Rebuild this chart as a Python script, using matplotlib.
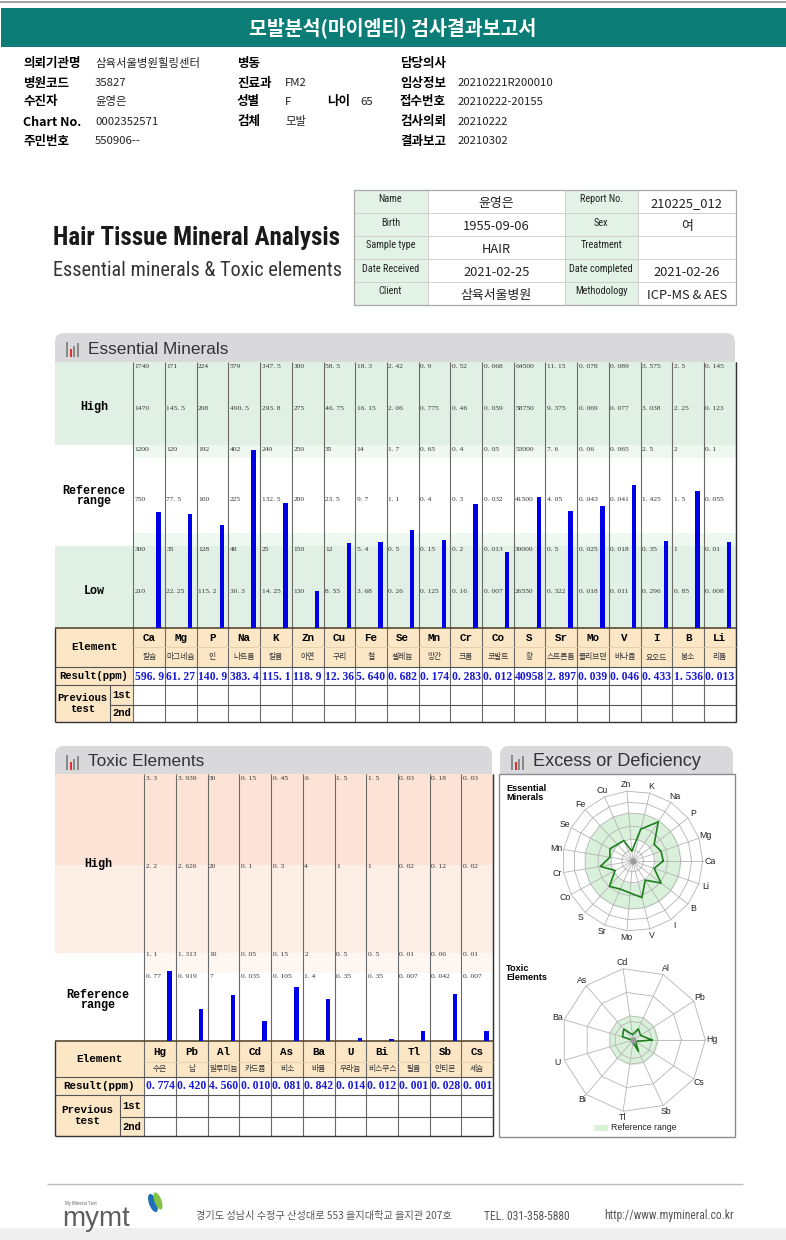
import numpy as np
import matplotlib
matplotlib.use("Agg")
import matplotlib.pyplot as plt
from matplotlib.patches import Rectangle, FancyBboxPatch, Ellipse

# ---- data ----
ess_symbols = ["Ca", "Mg", "P", "Na", "K", "Zn", "Cu", "Fe", "Se", "Mn",
               "Cr", "Co", "S", "Sr", "Mo", "V", "I", "B", "Li"]
ess_names = ["칼슘", "마그네슘", "인", "나트륨", "칼륨", "아연", "구리", "철", "셀레늄", "망간",
             "크롬", "코발트", "황", "스트론튬", "몰리브덴", "바나듐", "요오드", "붕소", "리튬"]
# reference levels top -> bottom (High top, High, Ref top, Ref mid, Low top, Low)
ess_levels = [
    [1740, 1470, 1200, 750, 300, 210],
    [171, 145.5, 120, 77.5, 35, 22.25],
    [224, 208, 192, 160, 128, 115.2],
    [579, 490.5, 402, 225, 48, 30.3],
    [347.5, 293.8, 240, 132.5, 25, 14.25],
    [300, 275, 250, 200, 150, 130],
    [58.5, 46.75, 35, 23.5, 12, 8.55],
    [18.3, 16.15, 14, 9.7, 5.4, 3.68],
    [2.42, 2.06, 1.7, 1.1, 0.5, 0.26],
    [0.9, 0.775, 0.65, 0.4, 0.15, 0.125],
    [0.52, 0.46, 0.4, 0.3, 0.2, 0.16],
    [0.068, 0.059, 0.05, 0.032, 0.013, 0.007],
    [64500, 58750, 53000, 41500, 30000, 26550],
    [11.15, 9.375, 7.6, 4.05, 0.5, 0.322],
    [0.078, 0.069, 0.06, 0.043, 0.025, 0.018],
    [0.089, 0.077, 0.065, 0.041, 0.018, 0.011],
    [3.575, 3.038, 2.5, 1.425, 0.35, 0.296],
    [2.5, 2.25, 2, 1.5, 1, 0.85],
    [0.145, 0.123, 0.1, 0.055, 0.01, 0.008],
]
ess_results = [596.9, 61.27, 140.9, 383.4, 115.1, 118.9, 12.36, 5.640, 0.682, 0.174,
               0.283, 0.012, 40958, 2.897, 0.039, 0.046, 0.433, 1.536, 0.013]

tox_symbols = ["Hg", "Pb", "Al", "Cd", "As", "Ba", "U", "Bi", "Tl", "Sb", "Cs"]
tox_names = ["수은", "납", "알루미늄", "카드뮴", "비소", "바륨", "우라늄", "비스무스", "탈륨", "안티몬", "세슘"]
tox_levels = [
    [3.3, 2.2, 1.1, 0.77],
    [3.939, 2.626, 1.313, 0.919],
    [30, 20, 10, 7],
    [0.15, 0.1, 0.05, 0.035],
    [0.45, 0.3, 0.15, 0.105],
    [6, 4, 2, 1.4],
    [1.5, 1, 0.5, 0.35],
    [1.5, 1, 0.5, 0.35],
    [0.03, 0.02, 0.01, 0.007],
    [0.18, 0.12, 0.06, 0.042],
    [0.03, 0.02, 0.01, 0.007],
]
tox_results = [0.774, 0.420, 4.560, 0.010, 0.081, 0.842, 0.014, 0.012, 0.001, 0.028, 0.001]

info_left = [("의뢰기관명", "삼육서울병원힐링센터"), ("병원코드", "35827"), ("수진자", "윤영은"),
             ("Chart No.", "0002352571"), ("주민번호", "550906--")]
info_mid = [("병동", ""), ("진료과", "FM2"), ("성별", "F"), ("검체", "모발")]
info_right = [("담당의사", ""), ("임상정보", "20210221R200010"), ("접수번호", "20210222-20155"),
              ("검사의뢰", "20210222"), ("결과보고", "20210302")]
card = [("Name", "윤영은", "Report No.", "210225_012"),
        ("Birth", "1955-09-06", "Sex", "여"),
        ("Sample type", "HAIR", "Treatment", ""),
        ("Date Received", "2021-02-25", "Date completed", "2021-02-26"),
        ("Client", "삼육서울병원", "Methodology", "ICP-MS & AES")]

KR = ["Noto Sans CJK KR", "DejaVu Sans"]
MONO = ["Liberation Mono", "DejaVu Sans Mono"]
SERIF = ["Liberation Serif", "DejaVu Serif"]
NARROW = ["Roboto Condensed", "Liberation Sans Narrow", "DejaVu Sans Condensed", "DejaVu Sans"]
SANS = ["Liberation Sans", "DejaVu Sans"]

W, H = 786, 1240
fig = plt.figure(figsize=(W / 100, H / 100), dpi=100)
ax = fig.add_axes([0, 0, 1, 1])
ax.set_xlim(0, W)
ax.set_ylim(H, 0)
ax.axis("off")
renderer = fig.canvas.get_renderer()


def box(x0, y0, x1, y1, fc, ec="none", lw=0, z=1):
    ax.add_patch(Rectangle((x0, y0), x1 - x0, y1 - y0, facecolor=fc, edgecolor=ec, linewidth=lw, zorder=z))


def hl(y, x0, x1, c="#555555", lw=0.8, z=3):
    ax.plot([x0, x1], [y, y], color=c, lw=lw, zorder=z, solid_capstyle="butt")


def vl(x, y0, y1, c="#555555", lw=0.8, z=3):
    ax.plot([x, x], [y0, y1], color=c, lw=lw, zorder=z, solid_capstyle="butt")


def fit(t, width):
    bb = t.get_window_extent(renderer)
    t.set_fontsize(t.get_fontsize() * width / bb.width)


def shrink(t, width):
    if t.get_window_extent(renderer).width > width:
        fit(t, width)


def fmt_level(v):
    return f"{v:g}".replace(".", ". ")


def fmt_res(v):
    if v >= 1000:
        s = f"{v:.0f}"
    elif v >= 100:
        s = f"{v:.1f}"
    elif v >= 10:
        s = f"{v:.2f}"
    else:
        s = f"{v:.3f}"
    return s.replace(".", ". ")


def tab(x0, x1, y0, y1, title, title_w):
    ax.add_patch(FancyBboxPatch((x0, y0), x1 - x0, (y1 - y0) + 10, boxstyle="round,pad=0,rounding_size=9",
                                facecolor="#d9d9dc", edgecolor="none", zorder=1))
    # little bar icon
    for dx, hgt, c in [(0, 15, "#8a8a8a"), (3.5, 8, "#e03030"), (7, 11, "#8a8a8a"), (10.5, 14, "#8a8a8a")]:
        box(x0 + 11 + dx, y0 + 24 - hgt, x0 + 13.2 + dx, y0 + 24, c, z=4)
    t = ax.text(x0 + 33, y0 + 16, title, fontsize=13, family=SANS, color="#333333", va="center", zorder=4)
    fit(t, title_w)


# ---- header ----
hl(1.5, 0, W, "#a0a0a0", 1.4)
box(1, 8, W, 47, "#0b7d76")
ax.text(393, 28, "모발분석(마이엠티) 검사결과보고서", color="white", fontsize=14, weight="bold",
        family=KR, ha="center", va="center", zorder=4)
rows_y = [63, 83, 102, 122, 141]
for (lab, val), y in zip(info_left, rows_y):
    ax.text(23, y, lab, family=KR, weight="bold", fontsize=9, va="center")
    ax.text(95, y, val, family=KR, fontsize=8.2, va="center", color="#222222")
for (lab, val), y in zip(info_mid, rows_y):
    ax.text(237, y, lab, family=KR, weight="bold", fontsize=9, va="center")
    ax.text(285, y, val, family=KR, fontsize=8.2, va="center", color="#222222")
ax.text(327, rows_y[2], "나이", family=KR, weight="bold", fontsize=9, va="center")
ax.text(360, rows_y[2], "65", family=KR, fontsize=8.2, va="center", color="#222222")
for (lab, val), y in zip(info_right, rows_y):
    ax.text(400, y, lab, family=KR, weight="bold", fontsize=9, va="center")
    ax.text(458, y, val, family=KR, fontsize=8.2, va="center", color="#222222")

# ---- title block ----
t = ax.text(53, 245, "Hair Tissue Mineral Analysis", family=NARROW, fontstretch="condensed", weight="bold",
            fontsize=22, color="#1a1a1a")
fit(t, 288)
t = ax.text(53, 276, "Essential minerals & Toxic elements", family=NARROW, fontstretch="condensed",
            fontsize=15, color="#333333")
fit(t, 288)

cx = [353.5, 427.5, 565, 637.5, 736]
cy = [190, 213, 236, 259, 282, 305]
box(cx[0], cy[0], cx[1], cy[-1], "#e2f2e6", z=1)
box(cx[2], cy[0], cx[3], cy[-1], "#e2f2e6", z=1)
for y in cy[1:-1]:
    hl(y, cx[0], cx[-1], "#d0d0d0", 0.7)
for x in cx[1:-1]:
    vl(x, cy[0], cy[-1], "#d0d0d0", 0.7)
box(cx[0], cy[0], cx[-1], cy[-1], "none", "#a8a8a8", 0.9, z=4)
for r, (l1, v1, l2, v2) in enumerate(card):
    ym = (cy[r] + cy[r + 1]) / 2
    for lab, xa, xb in [(l1, cx[0], cx[1]), (l2, cx[2], cx[3])]:
        t = ax.text((xa + xb) / 2, ym - 2, lab, family=NARROW, fontstretch="condensed", fontsize=7.4,
                    ha="center", va="center", color="#222222")
        shrink(t, (xb - xa) - 3)
    for val, xa, xb in [(v1, cx[1], cx[2]), (v2, cx[3], cx[4])]:
        ax.text((xa + xb) / 2, ym + 2, val, family=KR, fontsize=9.3, ha="center", va="center", color="#222222")

# ---- essential minerals ----
tab(55, 735, 333, 362, "Essential Minerals", 140)
ex0, cw, n_e = 133.3, 31.7, len(ess_symbols)
ex1 = ex0 + n_e * cw
e_top, e_bot = 362, 628
ess_pix = np.array([0, 41, 83, 133, 183, 224, 266])  # level heights above chart bottom
green, green_l = "#e1f0e4", "#eef7f0"
box(55, e_top, ex1, e_top + 83, green, z=2)
box(ex0, 445, ex1, 458, green_l, z=2)
box(55, 445, ex1, 546, "white", z=1.5)
box(ex0, 533, ex1, 546, green_l, z=2)
box(55, 546, ex1, e_bot, green, z=2)
ax.text(94, 407, "High", family=MONO, weight="bold", fontsize=8.5, ha="center", va="center", zorder=4)
ax.text(94, 496, "Reference\nrange", family=MONO, weight="bold", fontsize=8.5, ha="center", va="center",
        linespacing=0.85, zorder=4)
ax.text(94, 591, "Low", family=MONO, weight="bold", fontsize=8.5, ha="center", va="center", zorder=4)

e_heights = []
for i, lv in enumerate(ess_levels):
    x = ex0 + i * cw
    for v, hp in zip(lv, ess_pix[::-1][:6]):
        ax.text(x + 1.5, e_bot - hp + 4.5, fmt_level(v), family=SERIF, fontsize=5.4, color="#333333",
                va="center", zorder=4)
    e_heights.append(np.interp(ess_results[i], [0] + lv[::-1], ess_pix))
ax.bar(ex0 + np.arange(n_e) * cw + 25.2, -np.array(e_heights), bottom=e_bot, width=4.4,
       color="#0000e8", zorder=5)

# essential table
rows = [628, 647, 667, 685, 705, 722]
beige = "#fbe6c6"
box(55, rows[0], ex1, rows[2], beige, z=1)
box(55, rows[2], ex0, rows[3], beige, z=1)
box(55, rows[3], ex0, rows[5], beige, z=1)
for i in range(n_e + 1):
    vl(ex0 + i * cw, e_top, rows[5], "#6a6a6a", 0.8)
vl(ex1, e_top, rows[5], "#333333", 1.0)
vl(55, rows[0], rows[5], "#333333", 1.0)
hl(rows[0], 55, ex1, "#5a4a30", 1.2)
hl(rows[1], ex0, ex1, "#e2cda8", 0.6)
for y in rows[2:4]:
    hl(y, 55, ex1, "#555555", 0.8)
hl(rows[4], 110, ex1, "#555555", 0.8)
hl(rows[5], 55, ex1, "#333333", 1.0)
vl(110, rows[3], rows[5], "#555555", 0.8)
ax.text(94, 647, "Element", family=MONO, weight="bold", fontsize=8, ha="center", va="center", zorder=4)
ax.text(94, 676, "Result(ppm)", family=MONO, weight="bold", fontsize=7.6, ha="center", va="center", zorder=4)
ax.text(82.5, 703.5, "Previous\ntest", family=MONO, weight="bold", fontsize=7.6, ha="center", va="center",
        linespacing=1.05, zorder=4)
ax.text(121.6, 695, "1st", family=MONO, weight="bold", fontsize=7.6, ha="center", va="center", zorder=4)
ax.text(121.6, 713.5, "2nd", family=MONO, weight="bold", fontsize=7.6, ha="center", va="center", zorder=4)
for i in range(n_e):
    xc = ex0 + (i + 0.5) * cw
    ax.text(xc, 638, ess_symbols[i], family=MONO, weight="bold", fontsize=7.8, ha="center", va="center", zorder=4)
    t = ax.text(xc, 657, ess_names[i], family=KR, fontsize=5.6, ha="center", va="center", color="#333333", zorder=4)
    shrink(t, cw - 1)
    t = ax.text(xc, 676.5, fmt_res(ess_results[i]), family=SERIF, weight="bold", fontsize=8.4, ha="center",
                va="center", color="#1a1ad0", zorder=4)
    shrink(t, cw - 1.5)

# ---- toxic elements ----
tab(55, 492, 746, 774, "Toxic Elements", 116)
tx0, n_t = 144.3, len(tox_symbols)
tx1 = tx0 + n_t * cw
t_top, t_bot = 774, 1041
tox_pix = np.array([0, 70, 91, 179, 268])
box(55, t_top, tx1, 865, "#fde3d6", z=2)
box(55, 865, tx1, 953, "#fdeee6", z=2)
box(tx0, 953, tx1, 973, "#fef6f1", z=2)
ax.text(98, 864, "High", family=MONO, weight="bold", fontsize=8.5, ha="center", va="center", zorder=4)
ax.text(98, 1000, "Reference\nrange", family=MONO, weight="bold", fontsize=8.5, ha="center", va="center",
        linespacing=0.85, zorder=4)
t_heights = []
for i, lv in enumerate(tox_levels):
    x = tx0 + i * cw
    for v, hp in zip(lv, tox_pix[::-1][:4]):
        ax.text(x + 1.5, t_bot - hp + 5, fmt_level(v), family=SERIF, fontsize=5.4, color="#333333",
                va="center", zorder=4)
    t_heights.append(np.interp(tox_results[i], [0] + lv[::-1], tox_pix))
ax.bar(tx0 + np.arange(n_t) * cw + 25.2, -np.array(t_heights), bottom=t_bot, width=4.4,
       color="#0000e8", zorder=5)

trows = [1041, 1062, 1077, 1095, 1117, 1136]
box(55, trows[0], tx1, trows[2], beige, z=1)
box(55, trows[2], tx0, trows[3], beige, z=1)
box(55, trows[3], tx0, trows[5], beige, z=1)
for i in range(n_t + 1):
    vl(tx0 + i * cw, t_top, trows[5], "#6a6a6a", 0.8)
vl(tx1, t_top, trows[5], "#333333", 1.0)
vl(55, trows[0], trows[5], "#333333", 1.0)
hl(trows[0], 55, tx1, "#5a4a30", 1.2)
hl(trows[1], tx0, tx1, "#e2cda8", 0.6)
for y in trows[2:4]:
    hl(y, 55, tx1, "#555555", 0.8)
hl(trows[4], 120, tx1, "#555555", 0.8)
hl(trows[5], 55, tx1, "#333333", 1.0)
vl(120, trows[3], trows[5], "#555555", 0.8)
ax.text(99, 1059, "Element", family=MONO, weight="bold", fontsize=8, ha="center", va="center", zorder=4)
ax.text(99, 1086, "Result(ppm)", family=MONO, weight="bold", fontsize=7.8, ha="center", va="center", zorder=4)
ax.text(87.5, 1115.5, "Previous\ntest", family=MONO, weight="bold", fontsize=7.8, ha="center", va="center",
        linespacing=1.05, zorder=4)
ax.text(132, 1106, "1st", family=MONO, weight="bold", fontsize=7.6, ha="center", va="center", zorder=4)
ax.text(132, 1126.5, "2nd", family=MONO, weight="bold", fontsize=7.6, ha="center", va="center", zorder=4)
for i in range(n_t):
    xc = tx0 + (i + 0.5) * cw
    ax.text(xc, 1052, tox_symbols[i], family=MONO, weight="bold", fontsize=7.8, ha="center", va="center", zorder=4)
    t = ax.text(xc, 1069.5, tox_names[i], family=KR, fontsize=5.6, ha="center", va="center", color="#333333",
                zorder=4)
    shrink(t, cw - 1)
    t = ax.text(xc, 1086, fmt_res(tox_results[i]), family=SERIF, weight="bold", fontsize=8.4, ha="center",
                va="center", color="#1a1ad0", zorder=4)
    shrink(t, cw - 1.5)

# ---- excess or deficiency ----
tab(500, 733, 746, 774, "Excess or Deficiency", 168)
box(499, 774, 735, 1137, "white", "#8c8c8c", 1.0, z=2)
ax.text(506, 784, "Essential\nMinerals", family=SANS, weight="bold", fontsize=6.6, va="top", linespacing=1.0,
        zorder=4)
ax.text(506, 964, "Toxic\nElements", family=SANS, weight="bold", fontsize=6.6, va="top", linespacing=1.0,
        zorder=4)


def radar(cxp, cyp, R, names, levels_list, results, pix, band, lab_r):
    pa = fig.add_axes([(cxp - R) / W, (H - cyp - R) / H, 2 * R / W, 2 * R / H], projection="polar")
    pa.axis("off")
    pa.set_ylim(0, 1)
    n = len(names)
    th = np.arange(n) * 2 * np.pi / n
    thc = np.r_[th, th[0]]
    norm = pix / pix[-1]
    tt = np.linspace(0, 2 * np.pi, 361)
    pa.fill_between(tt, norm[band[0]], norm[band[1]], color="#d9f1da", lw=0, zorder=1)
    for r in norm[1:]:
        pa.plot(thc, [r] * (n + 1), color="#b4b4b4", lw=0.6, zorder=2, clip_on=False)
    for a in th:
        pa.plot([a, a], [0, 1], color="#b4b4b4", lw=0.6, zorder=2, clip_on=False)
    rv = [np.interp(v, [0] + lv[::-1], norm) for v, lv in zip(results, levels_list)]
    pa.plot(thc, np.r_[rv, rv[0]], color="#1f7d1f", lw=1.2, zorder=4)
    pa.plot([0], [0], "o", ms=3.5, color="#9a9a9a", zorder=5)
    for a, nm in zip(th, names):
        pa.text(a, lab_r, nm, family=SANS, fontsize=6.3, ha="center", va="center", color="#222222", clip_on=False)


radar(632.7, 861, 70, ess_symbols, ess_levels, ess_results, ess_pix, (2, 4), 1.1)
radar(633.3, 1040, 72, tox_symbols, tox_levels, tox_results, tox_pix, (0, 2), 1.09)
box(594, 1125, 608, 1131, "#d9f1da", z=4)
ax.text(611, 1128, "Reference range", family=SANS, fontsize=6.3, va="center", color="#222222", zorder=4)

# ---- footer ----
hl(1184, 47, 743, "#bdbdbd", 1.0)
ax.text(65, 1203, "My Mineral Test", family=NARROW, fontsize=3.6, color="#777777", va="center")
ax.text(62, 1226, "mymt", family=SANS, fontsize=20, color="#5e5e5e", va="baseline")
ax.add_patch(Ellipse((153, 1203), 8, 19, angle=-20, facecolor="#1f6fb8", zorder=4))
ax.add_patch(Ellipse((158, 1201), 7, 18, angle=-20, facecolor="#84c341", zorder=4))
ax.text(196, 1216, "경기도 성남시 수정구 산성대로 553 을지대학교 을지관 207호", family=KR, fontsize=7.3,
        color="#555555", va="center")
ax.text(484, 1216, "TEL. 031-358-5880", family=NARROW, fontsize=8.4, color="#555555", va="center")
ax.text(604, 1216, "http://www.mymineral.co.kr", family=NARROW, fontsize=8.4, color="#555555", va="center")
box(0, 1228, W, H, "#efefef", z=1)

fig.savefig("out.png", dpi=100)
